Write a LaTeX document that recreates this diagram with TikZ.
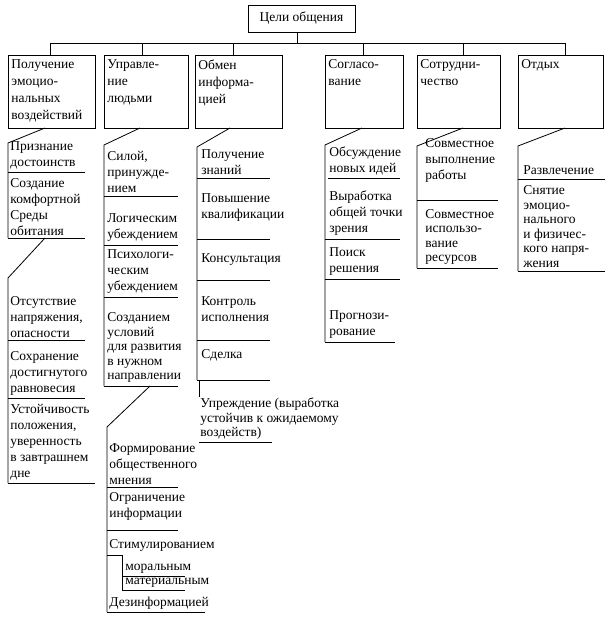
\documentclass[tikz,border=0pt]{standalone}
\usepackage{fontspec}
\setmainfont{Liberation Serif}
\begin{document}
\begin{tikzpicture}[x=1pt,y=-1pt,line width=0.8pt,
    txt/.style={anchor=south west, align=left, inner sep=0pt, font=\fontsize{13.5}{16}\selectfont},
    tight/.style={font=\fontsize{13.5}{14.5}\selectfont},
    head/.style={anchor=north west, align=left, inner sep=0pt, font=\fontsize{13.5}{17}\selectfont}]
  \useasboundingbox (0,0) rectangle (609,617);
  % Top box
  \node (top) [draw, inner sep=4pt, minimum width=107pt, minimum height=27pt,
    font=\fontsize{13.5}{16}\selectfont] at (301.5,18.5) {Цели общения};
  \coordinate (bus) at (297,43);
  \draw (top.south -| bus) -- (bus);
  \draw (50,43) -- (565,43);

  % Goal boxes
  \foreach \a/\b/\m/\t [count=\i] in {8/95/50/{Получение\\эмоцио-\\нальных\\воздействий},
      104/188/142/{Управле-\\ние\\людьми},
      195/282/233/{Обмен\\информа-\\цией},
      325/403/363/{Согласо-\\вание},
      417/500/463/{Сотрудни-\\чество},
      518/603/565/{Отдых}} {
    \draw (\a,55) rectangle (\b,128);
    \node (g\i) [head] at (\a+3,59) {\t};
    \draw (\m,43) -- (\m,55);
  }

  % Column 1
  \draw (45,128) -- (8,143) -- (8,238);
  \node (p1) [txt] at (10,170) {Признание\\достоинств};
  \draw (8,172) -- (85,172);
  \node (p2) [txt] at (10,236) {Создание\\комфортной\\Среды\\обитания};
  \draw (8,238) -- (85,238);
  \draw (45,238) -- (8,278) -- (8,483);
  \node (p3) [txt] at (10,338) {Отсутствие\\напряжения,\\опасности};
  \draw (8,340) -- (85,340);
  \node (p4) [txt] at (10,396) {Сохранение\\достигнутого\\равновесия};
  \draw (8,398) -- (85,398);
  \node (p5) [txt] at (10,481) {Устойчивость\\положения,\\уверенность\\в завтрашнем\\дне};
  \draw (8,483) -- (95,483);

  % Column 2
  \draw (140,128) -- (104,145) -- (104,386);
  \node (u1) [txt] at (107,193) {Силой,\\принужде-\\нием};
  \draw (104,196) -- (178,196);
  \node (u2) [txt] at (107,242) {Логическим\\убеждением};
  \draw (104,245) -- (178,245);
  \node (u3) [txt] at (107,294) {Психологи-\\ческим\\убеждением};
  \draw (104,297) -- (178,297);
  \node (u4) [txt, tight] at (107,383) {Созданием\\условий\\для развития\\в нужном\\направлении};
  \draw (104,386) -- (178,386);
  \draw (150,386) -- (107,427) -- (107,612);
  \node (u5) [txt] at (109,485) {Формирование\\общественного\\мнения};
  \draw (107,487) -- (178,487);
  \node (u6) [txt] at (109,521) {Ограничение\\информации};
  \draw (107,530) -- (178,530);
  \node (u7) [txt] at (109,552) {Стимулированием};
  \draw (107,555) -- (122,555) -- (122,590);
  \node (u8) [txt] at (125,574) {моральным};
  \draw (122,576) -- (185,576);
  \node (u9) [txt] at (125,588) {материальным};
  \draw (122,590) -- (185,590);
  \node (u10) [txt] at (109,610) {Дезинформацией};
  \draw (107,612) -- (205,612);

  % Column 3
  \draw (230,128) -- (197,147) -- (197,380);
  \node (o1) [txt] at (201,175) {Получение\\знаний};
  \draw (197,178) -- (270,178);
  \node (o2) [txt] at (201,222) {Повышение\\квалификации};
  \draw (197,239) -- (270,239);
  \node (o3) [txt] at (201,266) {Консультация};
  \draw (197,280) -- (270,280);
  \node (o4) [txt] at (201,322) {Контроль\\исполнения};
  \draw (197,340) -- (270,340);
  \node (o5) [txt] at (201,362) {Сделка};
  \draw (197,380) -- (270,380);
  \draw (199,380) -- (199,397);
  \node (o6) [txt, tight] at (200,440) {Упреждение (выработка\\устойчив к ожидаемому\\воздейств)};
  \draw (199,442) -- (272,442);

  % Column 4
  \draw (362,128) -- (325,145) -- (325,342);
  \node (s1) [txt] at (329,176) {Обсуждение\\новых идей};
  \draw (328,178) -- (400,178);
  \node (s2) [txt] at (329,236) {Выработка\\общей точки\\зрения};
  \draw (325,239) -- (400,239);
  \node (s3) [txt] at (329,276) {Поиск\\решения};
  \draw (325,279) -- (400,279);
  \node (s4) [txt] at (329,339) {Прогнози-\\рование};
  \draw (325,342) -- (395,342);

  % Column 5
  \draw (463,128) -- (417,146) -- (417,268);
  \node (c1) [txt] at (425,183) {Совместное\\выполнение\\работы};
  \draw (417,200) -- (498,200);
  \node (c2) [txt, tight] at (425,265) {Совместное\\использо-\\вание\\ресурсов};
  \draw (417,268) -- (498,268);

  % Column 6
  \draw (565,128) -- (518,146) -- (518,271);
  \node (r1) [txt] at (523,175) {Развлечение};
  \draw (518,179) -- (605,179);
  \node (r2) [txt, tight] at (523,268) {Снятие\\эмоцио-\\нального\\и физичес-\\кого напря-\\жения};
  \draw (518,271) -- (605,271);
\end{tikzpicture}
\end{document}
